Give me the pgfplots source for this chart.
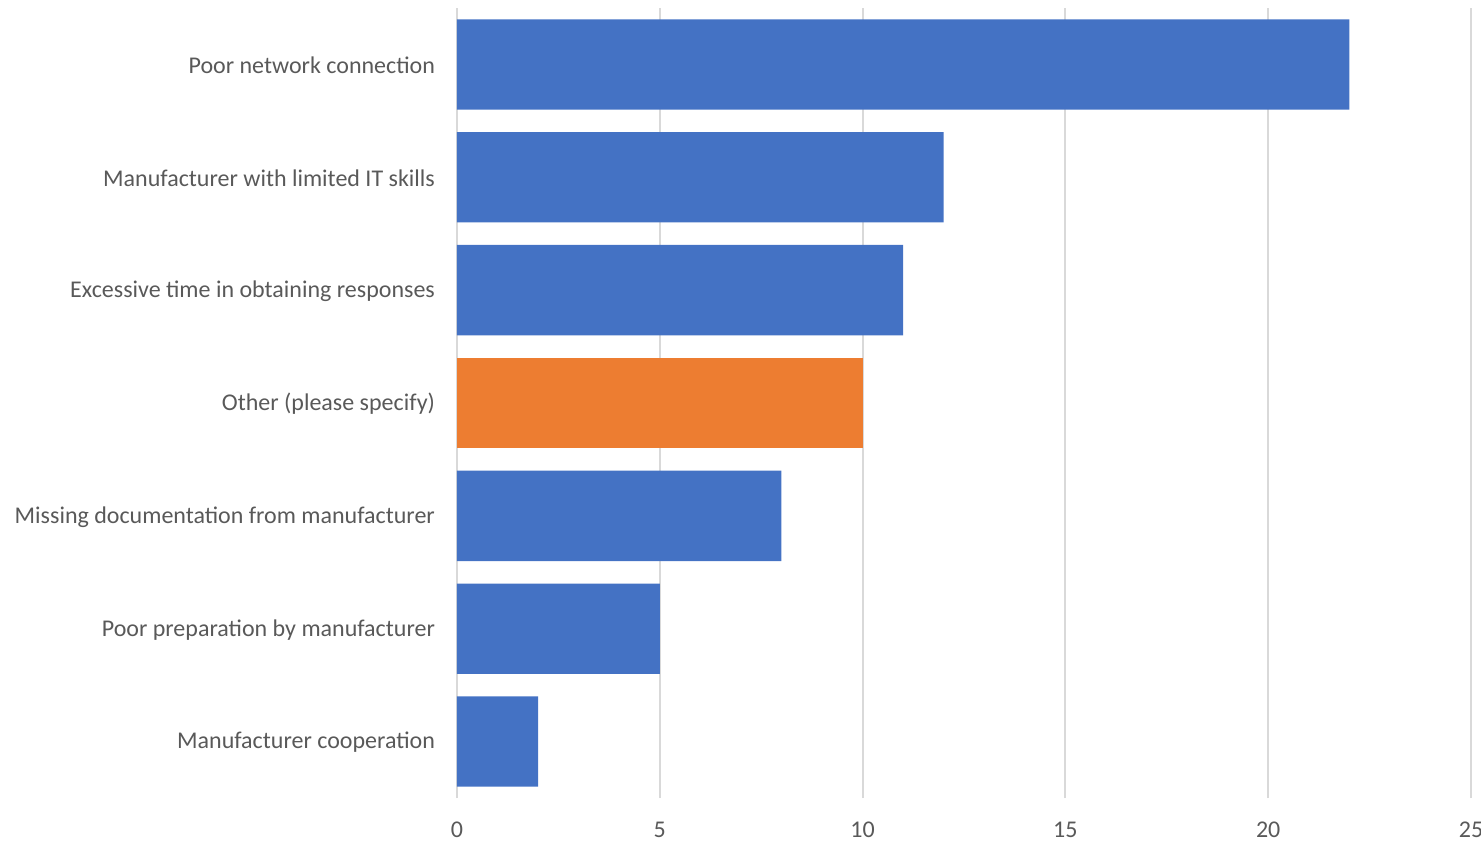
\documentclass[border=0pt]{standalone}
\usepackage{pgfplots}
\pgfplotsset{compat=1.18}
\usepackage{fontspec}
\setmainfont{Carlito}
\definecolor{barblue}{HTML}{4472C4}
\definecolor{barorange}{HTML}{ED7D31}
\definecolor{gridgray}{HTML}{D9D9D9}
\definecolor{textgray}{HTML}{595959}
\pgfplotstableread{
y val
0 2
1 5
2 8
4 11
5 12
6 22
}\bluedata
\pgfplotstableread{
y val
3 10
}\orangedata
\begin{document}
\begin{tikzpicture}
\begin{axis}[
  at={(0pt,0pt)}, anchor=south west,
  scale only axis,
  width=507pt, height=395pt,
  xmin=0, xmax=25, ymin=-0.5, ymax=6.5,
  xbar, bar width=0.8, bar shift=0pt,
  xtick={0,5,10,15,20,25},
  ytick={0,1,2,3,4,5,6},
  yticklabels={Manufacturer cooperation,Poor preparation by manufacturer,Missing documentation from manufacturer,Other (please specify),Excessive time in obtaining responses,Manufacturer with limited IT skills,Poor network connection},
  xmajorgrids, grid style={gridgray, line width=1pt},
  axis line style={draw=none},
  major tick length=0pt,
  tick label style={font=\fontsize{12}{14}\selectfont, text=textgray},
  /pgf/number format/assume math mode=true,
  yticklabel style={xshift=-7.5pt, yshift=-0.5pt},
  xticklabel style={yshift=-8.5pt},
  clip=false,
]
\addplot[fill=barblue, draw=none] table[x=val, y=y] {\bluedata};
\addplot[fill=barorange, draw=none] table[x=val, y=y] {\orangedata};
\end{axis}
\pgfresetboundingbox
\path[use as bounding box] (-228.5pt,-21.5pt) rectangle (512pt,399pt);
\end{tikzpicture}
\end{document}
